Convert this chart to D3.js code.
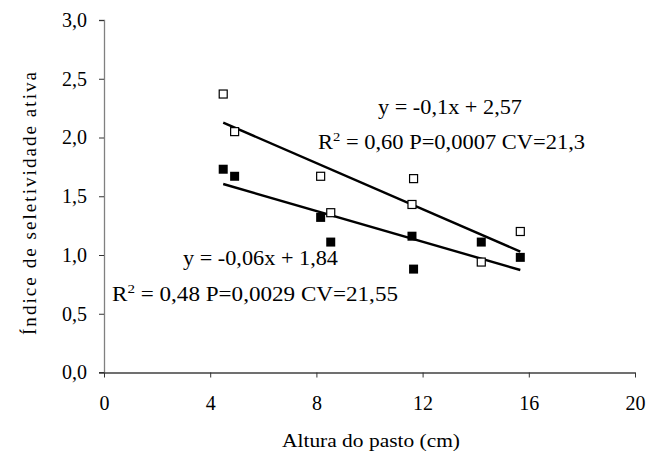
<!DOCTYPE html>
<html>
<head>
<meta charset="utf-8">
<script src="https://cdn.jsdelivr.net/npm/d3@7"></script>
<style>
  body { margin: 0; background: #fff; }
  svg text { font-family: 'Liberation Serif'; fill: #000; }
</style>
</head>
<body>
<script>
// data
var altura = [4.49, 4.92, 8.16, 8.54, 11.60, 11.66, 14.21, 15.68];
var serieAberta = [2.37, 2.05, 1.67, 1.36, 1.43, 1.65, 0.94, 1.20];   // open squares
var serieCheia  = [1.73, 1.67, 1.32, 1.11, 1.16, 0.88, 1.11, 0.98];   // filled squares
// trend lines as drawn (slope, intercept)
var retaAberta = [-0.098, 2.566];
var retaCheia  = [-0.0654, 1.898];
var xTicks = [0, 4, 8, 12, 16, 20];
var yTicks = [0, 0.5, 1, 1.5, 2, 2.5, 3];

var serif = 'Liberation Serif';
var width = 648, height = 457;
var svg = d3.select('body').append('svg')
  .attr('width', width)
  .attr('height', height)
  .attr('font-family', serif);

var x = d3.scaleLinear().domain([0, 20]).range([104, 635]);
var y = d3.scaleLinear().domain([0, 3]).range([372.5, 20]);
var fmt = function(d){ return d3.format('.1f')(d).replace('.', ','); };

// y axis
var yAxis = svg.append('g')
  .attr('transform', 'translate(' + x(0) + ',0)')
  .call(d3.axisLeft(y).tickValues(yTicks).tickSize(5).tickPadding(12).tickFormat(fmt))
  .attr('font-family', serif);
yAxis.select('.domain').attr('stroke', '#808080').attr('stroke-width', 1.3);
yAxis.selectAll('.tick line').attr('stroke', '#333');
yAxis.selectAll('.tick text').attr('font-size', 20).attr('fill', '#000');

// x axis
var xAxis = svg.append('g')
  .attr('transform', 'translate(0,' + y(0) + ')')
  .call(d3.axisBottom(x).tickValues(xTicks).tickSize(5).tickPadding(18).tickSizeOuter(0))
  .attr('font-family', serif);
xAxis.select('.domain').attr('stroke', '#404040').attr('stroke-width', 1.3);
xAxis.selectAll('.tick line').attr('stroke', '#333');
xAxis.selectAll('.tick text').attr('font-size', 20).attr('fill', '#000');
// small tick left of origin like the original
svg.append('line')
  .attr('x1', x(0) - 5).attr('x2', x(0))
  .attr('y1', y(0)).attr('y2', y(0))
  .attr('stroke', '#333');

// trend lines
var ext = d3.extent(altura);
var line = d3.line().x(function(d){ return x(d[0]); }).y(function(d){ return y(d[1]); });
[retaAberta, retaCheia].forEach(function(r){
  svg.append('path')
    .attr('d', line(ext.map(function(v){ return [v, r[0] * v + r[1]]; })))
    .attr('stroke', '#000')
    .attr('stroke-width', 2.4)
    .attr('fill', 'none');
});

var s = 8;
// open squares
svg.selectAll('.aberta')
  .data(altura)
  .enter()
  .append('rect')
  .attr('class', 'aberta')
  .attr('x', function(d){ return x(d) - s/2; })
  .attr('y', function(d, i){ return y(serieAberta[i]) - s/2; })
  .attr('width', s).attr('height', s)
  .attr('fill', '#fff').attr('stroke', '#000').attr('stroke-width', 1.2);

// filled squares
svg.selectAll('.cheia')
  .data(altura)
  .enter()
  .append('rect')
  .attr('class', 'cheia')
  .attr('x', function(d){ return x(d) - 4.5; })
  .attr('y', function(d, i){ return y(serieCheia[i]) - 4.5; })
  .attr('width', 9).attr('height', 9)
  .attr('fill', '#000');

// equation labels
function eq(txt, x0, x1, base){
  svg.append('text').attr('x', x0).attr('y', base)
    .attr('font-size', 20)
    .attr('textLength', x1 - x0).attr('lengthAdjust', 'spacingAndGlyphs')
    .text(txt);
}
function r2(rest, x0, x1, base){
  var t = svg.append('text').attr('x', x0).attr('y', base)
    .attr('font-size', 20)
    .attr('textLength', x1 - x0).attr('lengthAdjust', 'spacingAndGlyphs');
  t.append('tspan').text('R');
  t.append('tspan').attr('font-size', 13).attr('dy', -8).text('2');
  t.append('tspan').attr('dy', 8).text(rest);
}
eq('y = -0,1x + 2,57', 378, 522, 114);
r2(' = 0,60 P=0,0007 CV=21,3', 318, 585, 149);
eq('y = -0,06x + 1,84', 183, 338, 265);
r2(' = 0,48 P=0,0029 CV=21,55', 112, 398, 301);

// axis titles
svg.append('text')
  .attr('x', 282).attr('y', 447)
  .attr('font-size', 19)
  .attr('textLength', 178).attr('lengthAdjust', 'spacingAndGlyphs')
  .text('Altura do pasto (cm)');

svg.append('text')
  .attr('transform', 'translate(36,335) rotate(-90)')
  .attr('font-size', 19)
  .attr('textLength', 263).attr('lengthAdjust', 'spacing')
  .text('Índice de seletividade ativa');
</script>
</body>
</html>
